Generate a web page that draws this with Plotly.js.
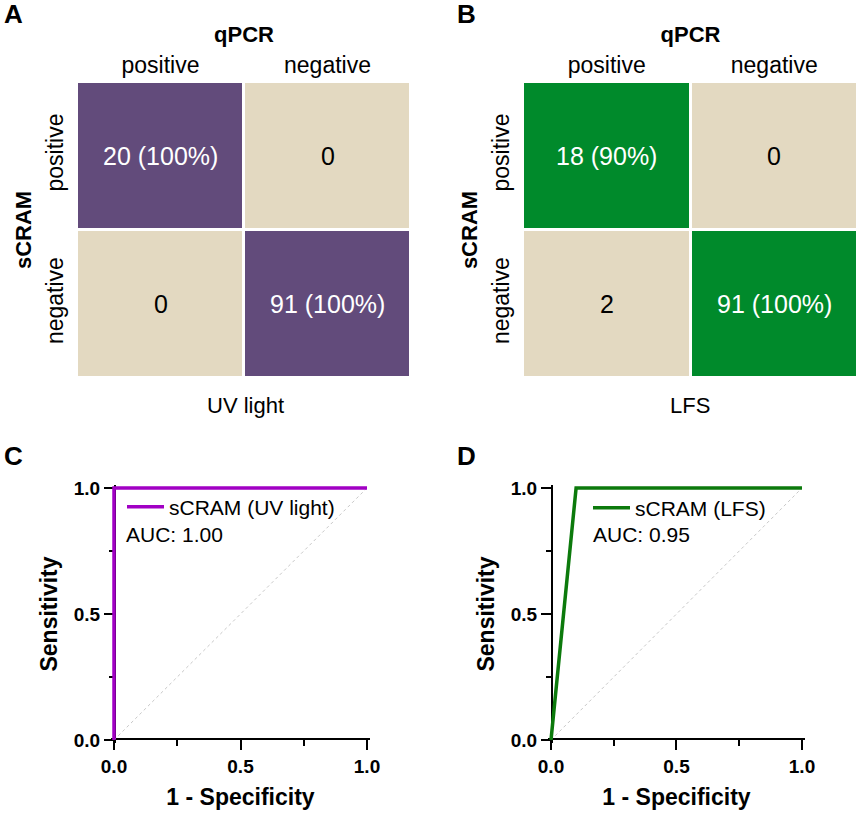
<!DOCTYPE html>
<html>
<head>
<meta charset="utf-8">
<script src="https://cdn.plot.ly/plotly-3.0.1.min.js"></script>
<style>
  html, body { margin: 0; padding: 0; background: #fff; }
  #fig { width: 860px; height: 816px; }
</style>
</head>
<body>
<div id="fig"></div>
<script>
// ---- data ----
const qpcrCats = ['positive', 'negative'];   // columns (reference method)
const scramCats = ['positive', 'negative'];  // rows (sCRAM result)
const uvCounts = [[20, 0], [0, 91]];
const uvPct = [[100, null], [null, 100]];
const lfsCounts = [[18, 0], [2, 91]];
const lfsPct = [[90, null], [null, 100]];

const rocUvX = [0, 0, 1];
const rocUvY = [0, 1, 1];
const rocLfsX = [0, 0.1, 1];
const rocLfsY = [0, 1, 1];
const chanceX = [0, 1];
const chanceY = [0, 1];
const aucUv = 1.00;
const aucLfs = 0.95;

// ---- styling ----
const FONT = 'Liberation Sans, Arial, Helvetica, sans-serif';
const W = 860, H = 816;
const PURPLE_CELL = '#624b7b';
const GREEN_CELL = '#008a2b';
const BEIGE = '#e3d9c1';
const PURPLE_LINE = '#a100c4';
const GREEN_LINE = '#0c7a0c';

const px = v => v / W;
const py = v => 1 - v / H;

// diagonal cells (agreement) are coloured, off-diagonal beige
const agree = counts => counts.map((row, i) => row.map((_, j) => (i === j ? 1 : 0)));
const cellText = (counts, pct) => counts.map((row, i) =>
  row.map((c, j) => (pct[i][j] == null ? String(c) : c + ' (' + pct[i][j] + '%)')));

function heat(counts, color, xa, ya) {
  return {
    type: 'heatmap',
    x: qpcrCats, y: scramCats,
    z: agree(counts),
    zmin: 0, zmax: 1,
    colorscale: [[0, BEIGE], [0.5, BEIGE], [0.5, color], [1, color]],
    showscale: false,
    xgap: 3, ygap: 3,
    hoverinfo: 'skip',
    xaxis: xa, yaxis: ya
  };
}

function cellAnnots(counts, pct, xa, ya) {
  const txt = cellText(counts, pct);
  const out = [];
  scramCats.forEach((r, i) => qpcrCats.forEach((c, j) => {
    out.push({
      xref: xa, yref: ya, x: c, y: r, text: txt[i][j], showarrow: false,
      font: { family: FONT, size: 25, color: i === j ? '#ffffff' : '#000000' }
    });
  }));
  return out;
}

const traces = [
  heat(uvCounts, PURPLE_CELL, 'x', 'y'),
  heat(lfsCounts, GREEN_CELL, 'x2', 'y2'),
  { type: 'scatter', mode: 'lines', x: chanceX, y: chanceY, xaxis: 'x3', yaxis: 'y3',
    line: { color: '#c8c8c8', width: 1, dash: 'dot' }, showlegend: false, hoverinfo: 'skip' },
  { type: 'scatter', mode: 'lines', x: rocUvX, y: rocUvY, xaxis: 'x3', yaxis: 'y3',
    name: 'sCRAM (UV light)', line: { color: PURPLE_LINE, width: 3.5 }, legend: 'legend' },
  { type: 'scatter', mode: 'lines', x: chanceX, y: chanceY, xaxis: 'x4', yaxis: 'y4',
    line: { color: '#c8c8c8', width: 1, dash: 'dot' }, showlegend: false, hoverinfo: 'skip' },
  { type: 'scatter', mode: 'lines', x: rocLfsX, y: rocLfsY, xaxis: 'x4', yaxis: 'y4',
    name: 'sCRAM (LFS)', line: { color: GREEN_LINE, width: 3.5 }, legend: 'legend2' }
];

// confusion-matrix axes
function cmX(left, right) {
  return {
    domain: [px(left), px(right)], side: 'top', anchor: 'free', position: py(80),
    type: 'category', categoryorder: 'array', categoryarray: qpcrCats,
    showgrid: false, zeroline: false, showline: false, ticks: '',
    tickfont: { family: FONT, size: 23, color: '#000' }, ticklabelstandoff: 2,
    title: { text: '<b>qPCR</b>', font: { family: FONT, size: 22, color: '#000' }, standoff: 2 },
    fixedrange: true
  };
}
function cmY(xanchor) {
  return {
    domain: [py(378), py(82)], anchor: xanchor,
    type: 'category', categoryorder: 'array', categoryarray: scramCats, autorange: 'reversed',
    showgrid: false, zeroline: false, showline: false, ticks: '', tickangle: -90,
    tickfont: { family: FONT, size: 23, color: '#000' }, ticklabelstandoff: 8,
    title: { text: '<b>sCRAM</b>', font: { family: FONT, size: 22, color: '#000' }, standoff: 4 },
    fixedrange: true
  };
}

// ROC axes: data 0..1 map to the given pixel spans, with a little padding so
// lines on the edges are not clipped
const PAD = 0.012;
function rocX(x0, x1, yZeroPx) {
  const s = x1 - x0;
  return {
    domain: [px(x0 - PAD * s), px(x1 + PAD * s)], range: [-PAD, 1 + PAD],
    anchor: 'free', position: py(yZeroPx - 1), layer: 'below traces',
    showgrid: false, zeroline: false, showline: true, linecolor: '#000', linewidth: 2,
    ticks: 'outside', ticklen: 10, tickwidth: 2, tickcolor: '#000',
    tickvals: [0, 0.5, 1], ticktext: ['0.0', '0.5', '1.0'],
    minor: { tickvals: [0.25, 0.75], ticks: 'outside', ticklen: 6, tickwidth: 2, tickcolor: '#000' },
    tickfont: { family: FONT, size: 19, color: '#000', weight: 'bold' },
    title: { text: '<b>1 - Specificity</b>', font: { family: FONT, size: 23, color: '#000' }, standoff: 12 },
    fixedrange: true
  };
}
function rocY(y0, y1, xZeroPx) {
  const s = y0 - y1;
  return {
    domain: [py(y0 + PAD * s), py(y1 - PAD * s)], range: [-PAD, 1 + PAD],
    anchor: 'free', position: px(xZeroPx + 1), layer: 'below traces',
    showgrid: false, zeroline: false, showline: true, linecolor: '#000', linewidth: 2,
    ticks: 'outside', ticklen: 10, tickwidth: 2, tickcolor: '#000',
    tickvals: [0, 0.5, 1], ticktext: ['0.0', '0.5', '1.0'],
    minor: { tickvals: [0.25, 0.75], ticks: 'outside', ticklen: 5, tickwidth: 2, tickcolor: '#000' },
    tickfont: { family: FONT, size: 19, color: '#000', weight: 'bold' },
    title: { text: '<b>Sensitivity</b>', font: { family: FONT, size: 23, color: '#000' }, standoff: 9 },
    fixedrange: true
  };
}

const panelLetter = (t, x, y) => ({
  xref: 'paper', yref: 'paper', x: px(x), y: py(y), xanchor: 'left', yanchor: 'top',
  text: '<b>' + t + '</b>', showarrow: false,
  font: { family: FONT, size: 26, color: '#000' }
});
const plainNote = (t, x, y, anchor) => ({
  xref: 'paper', yref: 'paper', x: px(x), y: py(y), xanchor: anchor, yanchor: 'middle',
  text: t, showarrow: false, font: { family: FONT, size: 22, color: '#000' }
});

const layout = {
  width: W, height: H,
  margin: { l: 0, r: 0, t: 0, b: 0 },
  paper_bgcolor: '#fff', plot_bgcolor: 'rgba(0,0,0,0)',
  font: { family: FONT, color: '#000' },
  xaxis: cmX(77, 411), yaxis: cmY('x'),
  xaxis2: cmX(523, 858), yaxis2: cmY('x2'),
  xaxis3: rocX(114, 367, 740), yaxis3: rocY(740, 488, 114),
  xaxis4: rocX(551, 802, 740), yaxis4: rocY(740, 488, 551),
  legend: {
    x: px(122), y: py(507), xanchor: 'left', yanchor: 'middle',
    bgcolor: 'rgba(0,0,0,0)', borderwidth: 0, itemwidth: 37,
    font: { family: FONT, size: 21, color: '#000' }
  },
  legend2: {
    x: px(588), y: py(508), xanchor: 'left', yanchor: 'middle',
    bgcolor: 'rgba(0,0,0,0)', borderwidth: 0, itemwidth: 37,
    font: { family: FONT, size: 21, color: '#000' }
  },
  annotations: [
    panelLetter('A', 2, -3), panelLetter('B', 455, -3),
    panelLetter('C', 2, 439), panelLetter('D', 455, 439),
    ...cellAnnots(uvCounts, uvPct, 'x', 'y'),
    ...cellAnnots(lfsCounts, lfsPct, 'x2', 'y2'),
    plainNote('UV light', 245, 405, 'center'),
    plainNote('LFS', 690, 405, 'center'),
    { xref: 'paper', yref: 'paper', x: px(124), y: py(534), xanchor: 'left', yanchor: 'middle',
      text: 'AUC: ' + aucUv.toFixed(2), showarrow: false, font: { family: FONT, size: 21, color: '#000' } },
    { xref: 'paper', yref: 'paper', x: px(591), y: py(534), xanchor: 'left', yanchor: 'middle',
      text: 'AUC: ' + aucLfs.toFixed(2), showarrow: false, font: { family: FONT, size: 21, color: '#000' } }
  ]
};

Plotly.newPlot('fig', traces, layout, { displayModeBar: false, staticPlot: true });
</script>
</body>
</html>
